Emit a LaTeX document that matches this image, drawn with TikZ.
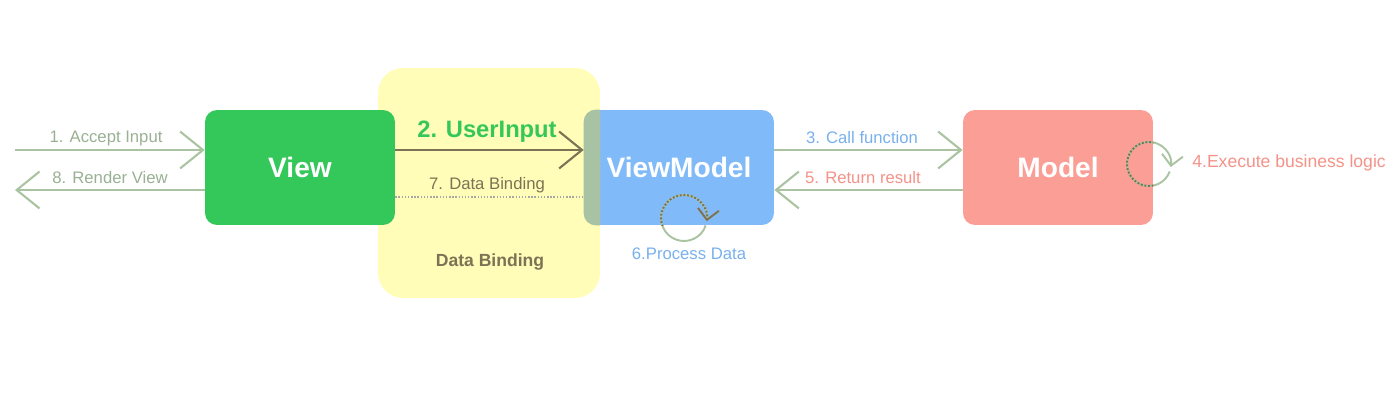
\documentclass[tikz,border=0pt]{standalone}
\usepackage{fontspec}
\setmainfont{Liberation Sans}
\usetikzlibrary{arrows.meta}
\definecolor{viewgreen}{RGB}{52,199,89}
\definecolor{bindyellow}{RGB}{255,253,184}
\definecolor{vmblue}{RGB}{128,186,248}
\definecolor{modelred}{RGB}{250,158,150}
\definecolor{linkgreen}{RGB}{170,196,162}
\definecolor{olive}{RGB}{122,115,85}
\definecolor{overlap}{RGB}{168,194,164}
\definecolor{labelblue}{RGB}{120,176,238}
\definecolor{labelred}{RGB}{244,146,136}

\begin{document}
\begin{tikzpicture}[x=0.02cm,y=-0.02cm,
  box/.style={rectangle, rounded corners=0.24cm, minimum width=3.8cm, minimum height=2.3cm, inner sep=0pt, text=white, font=\fontsize{16}{19}\selectfont\bfseries},
  link/.style={draw=linkgreen, line width=1.2pt, -{Straight Barb[length=13pt,width=21pt,line width=1.2pt]}},
  loop/.style={line width=1.1pt, -{Straight Barb[length=6pt,width=12pt,line width=1.1pt]}},
  lbl/.style={inner sep=0pt, font=\fontsize{9.5}{11}\selectfont}]
\useasboundingbox (0,0) rectangle (1400,404);

% boxes
\node[rectangle, rounded corners=0.5cm, fill=bindyellow, minimum width=4.44cm, minimum height=4.6cm] (bind) at (489,183) {};
\node[box, fill=vmblue] (vm) at (679,167.5) {ViewModel};
\begin{scope}
\clip[rounded corners=0.5cm] (bind.south west) rectangle (bind.north east);
\fill[overlap, rounded corners=0.24cm] (vm.south west) rectangle (vm.north east);
\end{scope}
\node[box, fill=viewgreen] (view) at (300,167.5) {View};
\node[box, fill=modelred] (model) at (1058,167.5) {Model};

% rows of the connectors
\coordinate (top) at (15,150);
\coordinate (bot) at (15,190);
\coordinate (bind line) at (0,197);

% view <-> outside
\draw[link] (top) -- (top -| view.west);
\draw[link] (bot -| view.west) -- (bot);
\node[lbl, text=linkgreen!90!black] (accept) at (106,138) {1. Accept Input};
\node[lbl, text=linkgreen!90!black] (render) at (110,178) {8. Render View};

% view <-> viewmodel
\draw[link, draw=olive] (top -| view.east) -- (top -| vm.west);
\draw[draw=gray!70, line width=0.8pt, densely dotted] (bind line -| view.east) -- (bind line -| vm.west);
\node[inner sep=0pt, text=viewgreen, font=\fontsize{13.5}{16}\selectfont\bfseries] (userinput) at (487,132) {2. UserInput};
\node[lbl, text=olive] (binding) at (487,185) {7. Data Binding};
\node[lbl, text=olive, font=\fontsize{10}{12}\selectfont\bfseries] (bindtitle) at (490,262) {Data Binding};

% viewmodel <-> model
\draw[link] (top -| vm.east) -- (top -| model.west);
\draw[link] (bot -| model.west) -- (bot -| vm.east);
\node[lbl, text=labelblue] (call) at (862,138) {3. Call function};
\node[lbl, text=labelred] (return) at (863,178) {5. Return result};

% self loops
\coordinate (vm loop) at (684,218);
\coordinate (model loop) at (1149,164);
\draw[loop, draw=linkgreen] (vm loop) ++(340:0.46cm) arc[start angle=340, end angle=-8, radius=0.46cm];
\draw[loop, draw=linkgreen] (model loop) ++(340:0.44cm) arc[start angle=340, end angle=-8, radius=0.44cm];
\begin{scope}
\clip (vm.south west) rectangle (vm.north east);
\draw[loop, draw=olive, densely dotted] (vm loop) ++(340:0.46cm) arc[start angle=340, end angle=-8, radius=0.46cm];
\end{scope}
\begin{scope}
\clip (model.south west) rectangle (model.north east);
\draw[loop, draw=olive, densely dotted] (model loop) ++(340:0.44cm) arc[start angle=340, end angle=-8, radius=0.44cm];
\end{scope}
\node[lbl, text=labelblue] (process) at (689,254) {6.Process Data};
\node[lbl, text=labelred, anchor=west, font=\fontsize{10}{12}\selectfont] (execute) at (1192,163) {4.Execute business logic};
\end{tikzpicture}
\end{document}
